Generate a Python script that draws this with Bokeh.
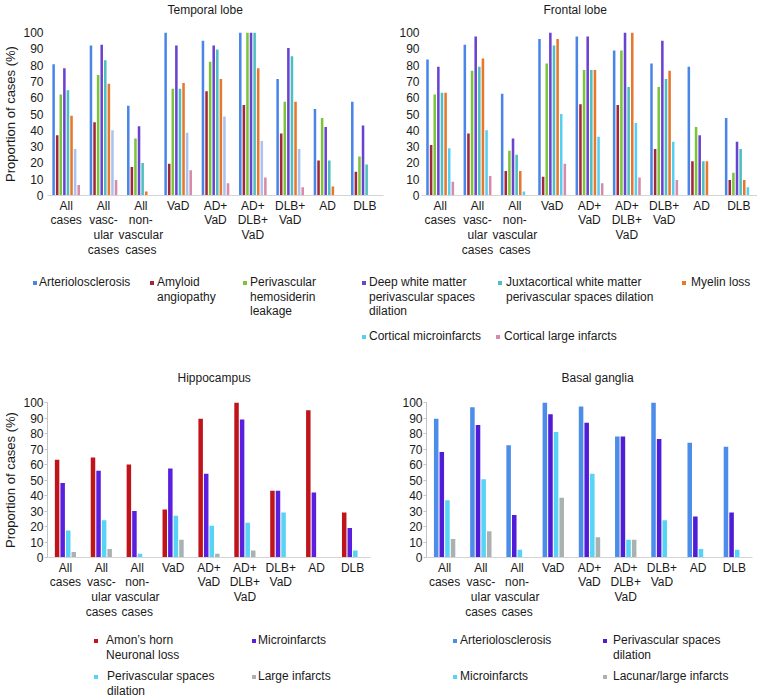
from bokeh.plotting import figure
from bokeh.models import (ColumnDataSource, FactorRange, Range1d, FixedTicker, Legend,
                          LegendItem, Title)
from bokeh.transform import dodge
from bokeh.layouts import column, row
from bokeh.embed import file_html
from bokeh.resources import INLINE

FONT = "Liberation Sans"
TXT = "#1a1a1a"

# ---------------- data ----------------
categories = ["All\ncases", "All\nvasc-\nular\ncases", "All\nnon-\nvascular\ncases", "VaD",
              "AD+\nVaD", "AD+\nDLB+\nVaD", "DLB+\nVaD", "AD", "DLB"]
y_ticks = [0, 10, 20, 30, 40, 50, 60, 70, 80, 90, 100]

cortex_names = ["Arteriolosclerosis", "Amyloid\nangiopathy", "Perivascular\nhemosiderin\nleakage",
                "Deep white matter\nperivascular spaces\ndilation",
                "Juxtacortical white matter\nperivascular spaces dilation", "Myelin loss",
                "Cortical microinfarcts", "Cortical large infarcts"]

t_art = [80.5, 92, 55, 100, 95, 100, 71.5, 53, 57.5]
t_amy = [37, 45, 17.5, 19.5, 64, 55.5, 38, 21.5, 14.5]
t_peri = [62, 74, 35, 65.5, 82, 100, 57.5, 47.5, 24]
t_deep = [78, 92.5, 42.5, 92, 92, 100, 90.5, 42, 43]
t_juxta = [64.5, 83, 20, 65.5, 89.5, 100, 85.5, 21.5, 19]
t_myelin = [49, 68.5, 2.5, 69, 71.5, 78, 57.5, 5.5, 0]
t_micro = [28.5, 40, 0, 38.5, 48.5, 33.5, 28.5, 0, 0]
t_large = [6.5, 9.5, 0, 15.5, 7.5, 11, 5, 0, 0]

f_art = [83.5, 92.5, 62.5, 96, 97.5, 89, 81, 79, 47.5]
f_amy = [31, 38, 15, 11.5, 56, 55.5, 28.5, 21, 9.5]
f_peri = [62, 76.5, 27.5, 81, 77, 89, 66.5, 42, 14]
f_deep = [79, 97.5, 35, 100, 97.5, 100, 95, 37, 33]
f_juxta = [63, 79, 25, 92, 77, 66.5, 71.5, 21, 28.5]
f_myelin = [63, 84, 15, 96, 77, 100, 76.5, 21, 9.5]
f_micro = [29, 40, 2.5, 50, 36, 44.5, 33, 0, 5]
f_large = [8.5, 12, 0, 19.5, 7.5, 11, 9.5, 0, 0]

hippo_names = ["Amon\u2019s horn\nNeuronal loss", "Microinfarcts", "Perivascular spaces\ndilation", "Large infarcts"]
h_neuronal = [63, 64.5, 60, 31, 89.5, 100, 43, 95, 29]
h_micro = [48, 56, 30, 57.5, 54, 89, 43, 42, 19]
h_pvs = [17.5, 24, 2.5, 27, 20.5, 22.5, 29, 0, 4.5]
h_large = [3.5, 5.5, 0, 11.5, 2.5, 4.5, 0, 0, 0]

basal_names = ["Arteriolosclerosis", "Perivascular spaces\ndilation", "Microinfarcts", "Lacunar/large infarcts"]
b_art = [89.5, 97, 72.5, 100, 97.5, 78, 100, 74, 71.5]
b_pvs = [68, 85.5, 27.5, 92.5, 87, 78, 76.5, 26.5, 29]
b_micro = [37, 50.5, 5, 81, 54, 11.5, 24, 5.5, 5]
b_lacunar = [12, 17, 0, 38.5, 13, 11.5, 0, 0, 0]

# ---------------- styles ----------------
temporal_colors = ["#4a86e8", "#a1283b", "#7cc53a", "#6a42d0", "#4cbfc0", "#e8762c", "#a9c3f1", "#d98aa8"]
frontal_colors = ["#4a86e8", "#a1283b", "#7cc53a", "#6a42d0", "#4cbfc0", "#e8762c", "#55cff2", "#d98aa8"]
hippo_colors = ["#c0141b", "#5b1fe0", "#56d3f5", "#a9b1b1"]
basal_colors = ["#4c8dea", "#501cd8", "#56d3f5", "#a9b1b1"]
LH = 1.07


def panel(title, series, colors, width, height, mbl, mbr, mbt, mbb, pitch, barw,
          ylabel, left_line, ylab_standoff, title_offset, title_standoff, spacer):
    p = figure(x_range=FactorRange(factors=categories), y_range=Range1d(0, 100),
               width=width, height=height, output_backend="svg", toolbar_location=None,
               min_border_left=mbl, min_border_right=mbr, min_border_top=mbt,
               min_border_bottom=mbb)
    data = {"cat": categories}
    for i, s in enumerate(series):
        data["s%d" % i] = s
    src = ColumnDataSource(data)
    n = len(series)
    for i, c in enumerate(colors):
        off = (i - (n - 1) / 2) * pitch
        p.vbar(x=dodge("cat", off, range=p.x_range), top="s%d" % i, width=barw,
               source=src, fill_color=c, line_color=None)
    if spacer:
        # thin blank spacer between the frame and the title
        p.add_layout(Title(text=" ", text_font_size="2px", standoff=spacer), "above")
    p.add_layout(Title(text=title, text_font=FONT, text_font_size="12px",
                       text_font_style="normal", text_color=TXT, align="left",
                       vertical_align="top", offset=title_offset,
                       standoff=title_standoff), "above")
    p.xgrid.grid_line_color = None
    p.ygrid.grid_line_color = None
    p.outline_line_color = None

    xa = p.xaxis[0]
    xa.major_label_text_font = FONT
    xa.major_label_text_font_size = "12px"
    xa.major_label_text_color = TXT
    xa.major_label_text_line_height = LH
    xa.major_label_standoff = 3
    xa.major_tick_out = 0
    xa.major_tick_in = 0
    xa.major_tick_line_color = None
    xa.axis_line_color = "#d4d4d4"
    xa.major_label_orientation = "horizontal"

    ya = p.yaxis[0]
    ya.ticker = FixedTicker(ticks=y_ticks)
    ya.minor_tick_line_color = None
    ya.minor_tick_out = 0
    ya.major_label_text_font = FONT
    ya.major_label_text_font_size = "12px"
    ya.major_label_text_color = TXT
    if left_line:
        ya.axis_line_color = "#c4c4c4"
        ya.major_tick_line_color = "#c4c4c4"
        ya.major_tick_out = 3
        ya.major_tick_in = 0
    else:
        ya.axis_line_color = None
        ya.major_tick_line_color = None
        ya.major_tick_out = 0
        ya.major_tick_in = 0
    ya.major_label_standoff = ylab_standoff
    if ylabel:
        ya.axis_label = ylabel
        ya.axis_label_text_font = FONT
        ya.axis_label_text_font_size = "13px"
        ya.axis_label_text_font_style = "normal"
        ya.axis_label_text_color = TXT
        ya.axis_label_standoff = 2
    return p


tp = panel("Temporal lobe", [t_art, t_amy, t_peri, t_deep, t_juxta, t_myelin, t_micro, t_large],
           temporal_colors, 385, 262, 45, 2, 32, 67, 0.096, 0.068,
           "Proportion of cases (%)", False, 4, 120, 2, 9)
fp = panel("Frontal lobe", [f_art, f_amy, f_peri, f_deep, f_juxta, f_myelin, f_micro, f_large],
           frontal_colors, 372, 262, 36, 0, 32, 67, 0.097, 0.068,
           None, False, 2, 122, 2, 9)
hp = panel("Hippocampus", [h_neuronal, h_micro, h_pvs, h_large],
           hippo_colors, 385, 267, 46, 15, 46, 61, 0.155, 0.125,
           "Proportion of cases (%)", True, 1, 130, 31, 0)
bp = panel("Basal ganglia", [b_art, b_pvs, b_micro, b_lacunar],
           basal_colors, 372, 267, 41, 5, 46, 61, 0.155, 0.125,
           None, True, 1, 135, 31, 0)

LINE = 14.35


def legend_fig(labels, colors, xs, firsts, standoffs, width, height):
    lf = figure(width=width, height=height, x_range=Range1d(0, width), y_range=Range1d(0, height),
                output_backend="svg", toolbar_location=None, min_border=0,
                x_axis_location=None, y_axis_location=None)
    lf.outline_line_color = None
    lf.xgrid.visible = False
    lf.ygrid.visible = False
    common = dict(padding=0, margin=0, spacing=0, border_line_alpha=0, background_fill_alpha=0,
                  glyph_width=5, glyph_height=5, label_height=12,
                  label_text_font=FONT, label_text_font_size="12px",
                  label_text_line_height=LH, label_text_color=TXT)
    for lab, c, x, first, so in zip(labels, colors, xs, firsts, standoffs):
        lines = lab.split("\n")
        # invisible proxy renderer that only supplies the legend swatch
        r = lf.vbar(x=[0], top=[0], width=1, fill_color=c, line_color=None, visible=False)
        top = first - LINE / 2
        leg = Legend(items=[LegendItem(label=lines[0], renderers=[r])],
                     location=(x, height - (top + LINE)), label_standoff=so, **common)
        lf.add_layout(leg)
        if len(lines) > 1:
            r2 = lf.vbar(x=[0], top=[0], width=1, fill_alpha=0, line_color=None, visible=False)
            rest = "\n".join(lines[1:])
            top2 = top + LINE
            leg2 = Legend(items=[LegendItem(label=rest, renderers=[r2])],
                          location=(x, height - (top2 + (len(lines) - 1) * LINE)),
                          label_standoff=so, **common)
            lf.add_layout(leg2)
    return lf


top_leg = legend_fig(cortex_names, frontal_colors,
                     [32, 149, 242, 361, 497, 681, 361, 495],
                     [20, 20, 20, 20, 20, 20, 74, 74],
                     [2, 3, 3, 3, 4, 5, 3, 4], 757, 93)
bot_leg = legend_fig(hippo_names + basal_names, hippo_colors + basal_colors,
                     [93, 251, 93, 251, 452, 602, 452, 602],
                     [18, 18, 54, 54, 18, 18, 54, 54],
                     [8, 2, 9, 2, 3, 6, 3, 6], 757, 75)

layout = column(row(tp, fp), top_leg, row(hp, bp), bot_leg)
open("out.html", "w").write(file_html(layout, INLINE))
